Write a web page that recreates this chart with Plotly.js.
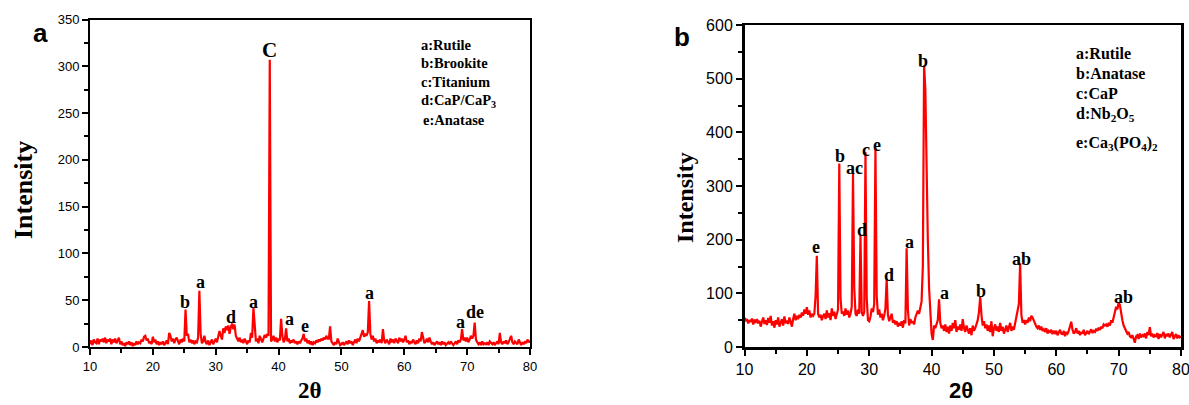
<!DOCTYPE html>
<html>
<head>
<meta charset="utf-8">
<script src="https://cdn.plot.ly/plotly-3.0.1.min.js"></script>
<style>html,body{margin:0;padding:0;background:#fff;}#chart{width:1189px;height:405px;}</style>
</head>
<body>
<div id="chart"></div>
<script>
// 2-theta grid: start and step (degrees), one intensity per step
var thetaStart = 10;
var thetaStep = 0.2;

// Panel a intensities, 10..80 deg, step 0.2
var intensityA = [
 3,7,2,8,5, 4,9,3,8,6, 9,5,10,4,8, 6,9,3,8,5, 9,4,7,10,3,
 6,2,4,1,5, 3,6,2,5,1, 4,2,6,3,5, 4,8,6,11,12, 7,9,4,6,3,
 11,5,8,3,6, 2,5,3,6,2, 4,7,3,15,12, 6,9,4,8,10, 6,3,8,5,9,
 6,40,12,14,5, 8,4,7,3,6, 5,10,60,14,4, 6,12,5,3,7, 2,5,8,3,6,
 9,5,10,17,12, 8,20,15,22,18, 23,14,21,25,19, 24,12,8,6,10, 5,8,4,9,6,
 3,7,5,15,10, 42,18,6,9,4, 12,8,5,9,13, 10,14,12,307,6, 8,12,6,10,5,
 9,7,30,12,5, 8,20,6,9,4, 7,5,8,4,6, 3,6,4,7,9, 14,6,9,4,7,
 3,6,2,5,4, 7,5,8,6,9, 7,10,8,12,9, 9,22,6,4,2, 5,3,9,4,2,
 3,5,2,4,6, 3,7,4,6,2, 5,8,4,9,6, 10,13,18,11,14, 12,16,49,14,8,
 12,6,9,4,7, 5,8,4,19,7, 4,8,6,3,9, 5,8,4,9,6, 4,10,6,9,5,
 8,12,5,7,3, 6,4,8,5,3, 7,4,9,6,16, 8,4,6,9,5, 10,6,3,5,2,
 4,6,3,5,2, 6,3,5,2,4, 5,3,6,4,2, 4,6,3,7,5, 8,19,7,10,6,
 10,5,8,12,9, 12,26,8,5,3, 5,2,6,3,4, 3,5,2,6,4, 3,5,2,4,6,
 3,15,5,3,6, 4,7,3,5,8, 12,5,3,6,4, 3,8,4,2,5, 3,6,4,8,5,
 7
];

// Panel b intensities, 10..80 deg, step 0.2
var intensityB = [
 55,48,52,44,50, 47,53,42,51,45, 52,44,49,38,47, 55,43,50,41,54, 45,58,40,48,36,
 50,42,55,38,46, 52,40,57,44,49, 43,55,47,38,52, 62,50,58,52,60, 55,64,58,70,62,
 74,60,68,55,62, 58,62,95,170,62, 55,60,50,58,62, 52,68,55,63,50, 72,58,66,52,60,
 70,342,90,62,66, 58,72,60,68,55, 62,75,323,110,62, 58,70,62,208,65, 58,65,363,90,50,
 48,56,72,65,80, 371,95,60,70,55, 62,50,58,72,126, 60,48,55,62,45, 50,42,48,38,45,
 40,48,36,50,44, 184,70,40,52,45, 48,42,55,60,68, 62,72,85,150,525, 480,310,200,110,60,
 25,13,40,35,45, 50,89,45,35,40, 30,42,28,38,25, 40,30,45,35,50, 28,38,32,42,30,
 52,35,28,40,32, 25,35,22,40,30, 35,42,50,65,94, 60,40,48,35,42, 30,40,28,48,20,
 35,42,30,38,28, 45,30,38,25,35, 40,28,35,45,30, 38,32,45,55,70, 80,156,60,45,50,
 42,50,45,55,48, 58,55,48,42,38, 35,40,32,38,30, 33,28,35,25,30, 28,32,24,30,26,
 30,22,28,32,25, 24,30,20,28,25, 30,38,47,32,25, 28,35,25,30,22, 28,25,32,22,27,
 30,24,28,33,26, 30,28,34,30,36, 32,38,35,42,40, 42,38,45,40,50, 45,55,65,75,70,
 83,78,60,50,40, 35,30,25,28,20, 18,22,15,8,20, 22,15,25,18,22, 20,25,16,28,22,
 37,20,25,18,22, 20,26,15,24,18, 22,28,16,24,20, 25,18,22,28,15, 20,24,16,22,18,
 20
];

// Peak labels
var peakLabelsA = ["C","b","a","d","a","a","e","a","a","de"];
var peakThetaA  = [38.5, 25.1, 27.5, 32.5, 36.0, 41.8, 44.2, 54.4, 69.0, 71.2];
var peakIntA    = [317, 48, 70, 32, 48, 30, 22, 58, 27, 37];

var peakLabelsB = ["e","b","ac","d","c","e","d","a","b","a","b","ab","ab"];
var peakThetaB  = [21.5, 25.3, 27.6, 28.9, 29.5, 31.2, 33.2, 36.4, 38.7, 42.0, 48.0, 54.5, 70.7];
var peakIntB    = [186, 356, 333, 218, 367, 376, 134, 195, 533, 100, 105, 164, 94];

// Phase legends
var legendA = ["a:Rutile","b:Brookite","c:Titanium","d:CaP/CaP<sub>3</sub>","e:Anatase"];
var legendB = ["a:Rutile","b:Anatase","c:CaP","d:Nb<sub>2</sub>O<sub>5</sub>","e:Ca<sub>3</sub>(PO<sub>4</sub>)<sub>2</sub>"];

var W = 1189, H = 405;
var SERIF = "Liberation Serif, Times New Roman, serif";
var SANS = "Liberation Sans, Arial, sans-serif";
function px(x){ return x / W; }
function py(y){ return 1 - y / H; }

var traces = [
  {x0: thetaStart, dx: thetaStep, y: intensityA, type: "scatter", mode: "lines",
   line: {color: "#ff0000", width: 2.2}, xaxis: "x", yaxis: "y", hoverinfo: "skip"},
  {x0: thetaStart, dx: thetaStep, y: intensityB, type: "scatter", mode: "lines",
   line: {color: "#ff0000", width: 2.2}, xaxis: "x2", yaxis: "y2", hoverinfo: "skip"}
];

function axisBase(extra){
  var a = {showline: true, linecolor: "#000", linewidth: 2, mirror: true,
    ticks: "outside", tickcolor: "#000", tickwidth: 2, ticklen: 6,
    showgrid: false, zeroline: false, fixedrange: true, ticklabeloverflow: "allow"};
  for (var k in extra) a[k] = extra[k];
  return a;
}

var layout = {
  width: W, height: H,
  margin: {l: 0, r: 0, t: 0, b: 0, pad: 0, autoexpand: false},
  paper_bgcolor: "#fff", plot_bgcolor: "#fff",
  showlegend: false,
  xaxis: axisBase({domain: [px(90), px(530)], range: [10, 80], dtick: 10, tick0: 10,
    tickfont: {family: SANS, size: 13, color: "#000"}, anchor: "y",
    minor: {dtick: 5, ticks: "outside", ticklen: 4, tickwidth: 2, tickcolor: "#000"}}),
  yaxis: axisBase({domain: [py(347), py(19.5)], range: [0, 350], dtick: 50, tick0: 0,
    tickfont: {family: SANS, size: 13, color: "#000"}, anchor: "x",
    minor: {dtick: 25, ticks: "outside", ticklen: 4, tickwidth: 2, tickcolor: "#000"}}),
  xaxis2: axisBase({domain: [px(744.5), px(1181)], range: [10, 80], dtick: 10, tick0: 10,
    tickfont: {family: SANS, size: 16, color: "#000"}, anchor: "y2", linewidth: 2.5,
    minor: {dtick: 5, ticks: "outside", ticklen: 4, tickwidth: 2, tickcolor: "#000"}}),
  yaxis2: axisBase({domain: [py(347), py(25)], range: [0, 600], dtick: 100, tick0: 0,
    tickfont: {family: SANS, size: 16, color: "#000"}, anchor: "x2", linewidth: 2.5,
    minor: {dtick: 50, ticks: "outside", ticklen: 4, tickwidth: 2, tickcolor: "#000"}}),
  annotations: []
};

var ann = layout.annotations;
for (var i = 0; i < peakLabelsA.length; i++) {
  ann.push({x: peakThetaA[i], y: peakIntA[i], xref: "x", yref: "y", text: "<b>" + peakLabelsA[i] + "</b>",
    showarrow: false, xanchor: "center", yanchor: "middle",
    font: {family: SERIF, size: peakLabelsA[i] === "C" ? 21 : 18, color: "#000"}});
}
for (var j = 0; j < peakLabelsB.length; j++) {
  ann.push({x: peakThetaB[j], y: peakIntB[j], xref: "x2", yref: "y2", text: "<b>" + peakLabelsB[j] + "</b>",
    showarrow: false, xanchor: "center", yanchor: "middle",
    font: {family: SERIF, size: 18, color: "#000"}});
}
var legAy = [45, 63.5, 82, 101, 120];
for (var k = 0; k < legendA.length; k++) {
  ann.push({x: px(k === 4 ? 421 : 419), y: py(legAy[k]), xref: "paper", yref: "paper", text: "<b>" + legendA[k] + "</b>",
    showarrow: false, xanchor: "left", yanchor: "middle", font: {family: SERIF, size: 14.5, color: "#000"}});
}
var legBy = [53, 73, 94, 115, 143];
for (var m = 0; m < legendB.length; m++) {
  ann.push({x: px(1074), y: py(legBy[m]), xref: "paper", yref: "paper", text: "<b>" + legendB[m] + "</b>",
    showarrow: false, xanchor: "left", yanchor: "middle", font: {family: SERIF, size: 16, color: "#000"}});
}
// axis titles and panel letters
ann.push({x: px(23), y: py(190), xref: "paper", yref: "paper", text: "<b>Intensity</b>", textangle: -90,
  showarrow: false, xanchor: "center", yanchor: "middle", font: {family: SERIF, size: 26, color: "#000"}});
ann.push({x: px(310), y: py(390), xref: "paper", yref: "paper", text: "<b>2θ</b>",
  showarrow: false, xanchor: "center", yanchor: "middle", font: {family: SERIF, size: 23, color: "#000"}});
ann.push({x: px(685), y: py(198), xref: "paper", yref: "paper", text: "<b>Intensity</b>", textangle: -90,
  showarrow: false, xanchor: "center", yanchor: "middle", font: {family: SERIF, size: 24, color: "#000"}});
ann.push({x: px(961), y: py(390), xref: "paper", yref: "paper", text: "<b>2θ</b>",
  showarrow: false, xanchor: "center", yanchor: "middle", font: {family: SANS, size: 22, color: "#000"}});
ann.push({x: px(40), y: py(33), xref: "paper", yref: "paper", text: "<b>a</b>",
  showarrow: false, xanchor: "center", yanchor: "middle", font: {family: SANS, size: 26, color: "#000"}});
ann.push({x: px(682), y: py(37), xref: "paper", yref: "paper", text: "<b>b</b>",
  showarrow: false, xanchor: "center", yanchor: "middle", font: {family: SANS, size: 26, color: "#000"}});

Plotly.newPlot("chart", traces, layout, {staticPlot: true, displayModeBar: false});
</script>
</body>
</html>
